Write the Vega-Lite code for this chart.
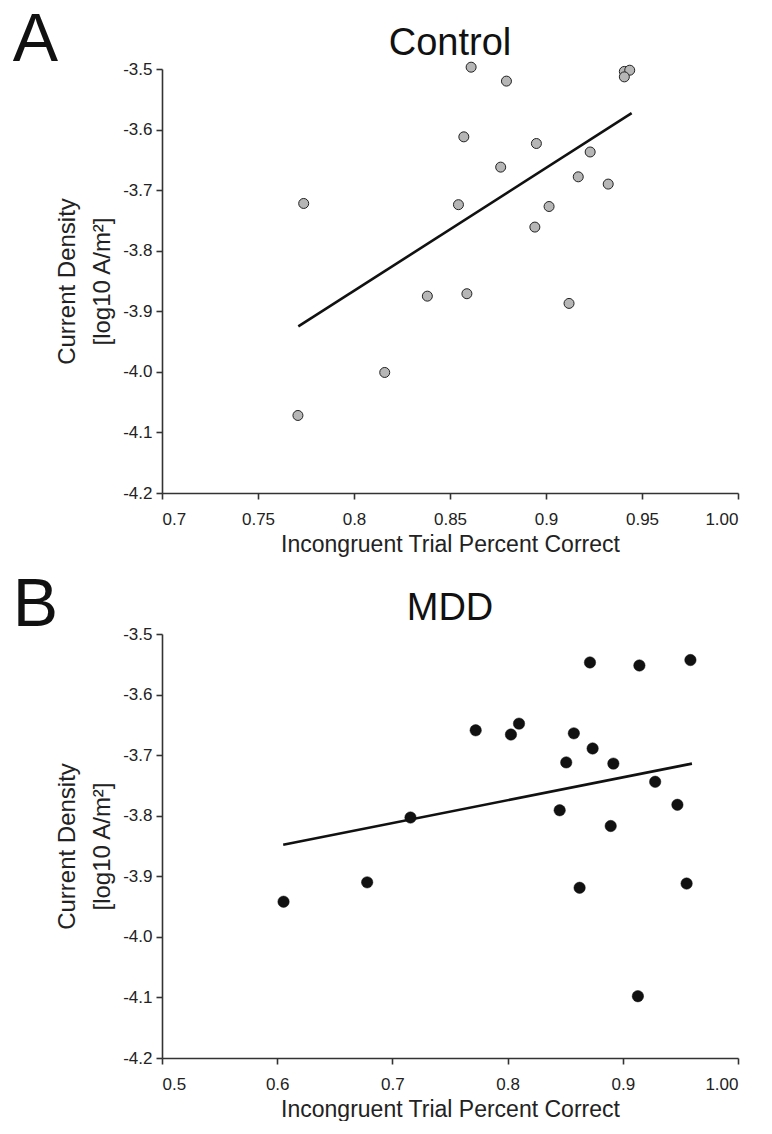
{
  "$schema": "https://vega.github.io/schema/vega-lite/v6.json",
  "padding": {"left": 12, "top": 7, "right": 20, "bottom": 0},
  "spacing": 16,
  "config": {
    "font": "Liberation Sans",
    "view": {"stroke": null},
    "axis": {
      "grid": false,
      "domainColor": "#333333",
      "domainWidth": 1.6,
      "tickColor": "#333333",
      "tickWidth": 1.6,
      "tickSize": 6,
      "labelFont": "Liberation Sans",
      "labelFontSize": 17,
      "labelColor": "#222222",
      "titleFont": "Liberation Sans",
      "titleFontSize": 23,
      "titleFontWeight": "normal",
      "titleColor": "#222222"
    },
    "title": {"font": "Liberation Sans", "fontWeight": "normal", "color": "#111111"}
  },
  "datasets": {
    "control": [
      {"x": 0.861, "y": -3.497},
      {"x": 0.8794, "y": -3.520},
      {"x": 0.9408, "y": -3.504},
      {"x": 0.9436, "y": -3.502},
      {"x": 0.9408, "y": -3.513},
      {"x": 0.8572, "y": -3.612},
      {"x": 0.895, "y": -3.623},
      {"x": 0.923, "y": -3.637},
      {"x": 0.8764, "y": -3.662},
      {"x": 0.9168, "y": -3.678},
      {"x": 0.9324, "y": -3.690},
      {"x": 0.7738, "y": -3.722},
      {"x": 0.8544, "y": -3.724},
      {"x": 0.9016, "y": -3.727},
      {"x": 0.8942, "y": -3.761},
      {"x": 0.8382, "y": -3.875},
      {"x": 0.8588, "y": -3.871},
      {"x": 0.912, "y": -3.887},
      {"x": 0.816, "y": -4.001},
      {"x": 0.7708, "y": -4.072}
    ],
    "controlFit": [
      {"x": 0.771, "y": -3.925},
      {"x": 0.9446, "y": -3.573}
    ],
    "mdd": [
      {"x": 0.8715, "y": -3.547},
      {"x": 0.9144, "y": -3.552},
      {"x": 0.9587, "y": -3.543},
      {"x": 0.7723, "y": -3.659},
      {"x": 0.8029, "y": -3.666},
      {"x": 0.8099, "y": -3.648},
      {"x": 0.8575, "y": -3.664},
      {"x": 0.8738, "y": -3.689},
      {"x": 0.8509, "y": -3.712},
      {"x": 0.8918, "y": -3.714},
      {"x": 0.9281, "y": -3.744},
      {"x": 0.9474, "y": -3.782},
      {"x": 0.8452, "y": -3.791},
      {"x": 0.7157, "y": -3.803},
      {"x": 0.8895, "y": -3.817},
      {"x": 0.6781, "y": -3.910},
      {"x": 0.8625, "y": -3.919},
      {"x": 0.9554, "y": -3.912},
      {"x": 0.6055, "y": -3.942},
      {"x": 0.9131, "y": -4.098}
    ],
    "mddFit": [
      {"x": 0.6052, "y": -3.848},
      {"x": 0.960, "y": -3.714}
    ]
  },
  "vconcat": [
    {
      "title": {"text": "A", "anchor": "start", "frame": "bounds", "fontSize": 68, "offset": -50, "dx": -43},
      "vconcat": [
        {
          "width": 576,
          "height": 424,
          "title": {"text": "Control", "fontSize": 38, "anchor": "middle", "offset": -3},
          "layer": [
            {
              "data": {"name": "controlFit"},
              "mark": {"type": "line", "color": "#111111", "strokeWidth": 2.6, "clip": false},
              "encoding": {
                "x": {"field": "x", "type": "quantitative"},
                "y": {"field": "y", "type": "quantitative"}
              }
            },
            {
              "data": {"name": "control"},
              "mark": {"type": "point", "shape": "circle", "filled": true, "fill": "#b6b6b6", "stroke": "#222222", "strokeWidth": 1, "size": 100, "opacity": 1, "clip": false},
              "encoding": {
                "x": {
                  "field": "x", "type": "quantitative",
                  "scale": {"domain": [0.7, 1.0], "nice": false, "zero": false},
                  "axis": {
                    "title": "Incongruent Trial Percent Correct",
                    "values": [0.7, 0.75, 0.8, 0.85, 0.9, 0.95, 1.0],
                    "labelExpr": "datum.value >= 0.999 ? '1.00' : format(datum.value, '~g')",
                    "labelPadding": 12,
                    "titlePadding": 6
                  }
                },
                "y": {
                  "field": "y", "type": "quantitative",
                  "scale": {"domain": [-4.2, -3.5], "nice": false, "zero": false},
                  "axis": {
                    "title": ["Current Density", "[log10 A/m²]"],
                    "titleLineHeight": 35,
                    "titleFontSize": 24,
                    "values": [-4.2, -4.1, -4.0, -3.9, -3.8, -3.7, -3.6, -3.5],
                    "labelExpr": "replace(format(datum.value, '.1f'), '\u2212', '-')",
                    "labelPadding": 4,
                    "titlePadding": 8
                  }
                }
              }
            }
          ]
        }
      ]
    },
    {
      "title": {"text": "B", "anchor": "start", "frame": "bounds", "fontSize": 68, "offset": -50, "dx": -43},
      "vconcat": [
        {
          "width": 576,
          "height": 424,
          "title": {"text": "MDD", "fontSize": 38, "anchor": "middle", "offset": -3},
          "layer": [
            {
              "data": {"name": "mddFit"},
              "mark": {"type": "line", "color": "#111111", "strokeWidth": 2.6, "clip": false},
              "encoding": {
                "x": {"field": "x", "type": "quantitative"},
                "y": {"field": "y", "type": "quantitative"}
              }
            },
            {
              "data": {"name": "mdd"},
              "mark": {"type": "point", "shape": "circle", "filled": true, "fill": "#111111", "stroke": "#111111", "strokeWidth": 0.5, "size": 130, "opacity": 1, "clip": false},
              "encoding": {
                "x": {
                  "field": "x", "type": "quantitative",
                  "scale": {"domain": [0.5, 1.0], "nice": false, "zero": false},
                  "axis": {
                    "title": "Incongruent Trial Percent Correct",
                    "values": [0.5, 0.6, 0.7, 0.8, 0.9, 1.0],
                    "labelExpr": "datum.value >= 0.999 ? '1.00' : format(datum.value, '~g')",
                    "labelPadding": 12,
                    "titlePadding": 6
                  }
                },
                "y": {
                  "field": "y", "type": "quantitative",
                  "scale": {"domain": [-4.2, -3.5], "nice": false, "zero": false},
                  "axis": {
                    "title": ["Current Density", "[log10 A/m²]"],
                    "titleLineHeight": 35,
                    "titleFontSize": 24,
                    "values": [-4.2, -4.1, -4.0, -3.9, -3.8, -3.7, -3.6, -3.5],
                    "labelExpr": "replace(format(datum.value, '.1f'), '\u2212', '-')",
                    "labelPadding": 4,
                    "titlePadding": 8
                  }
                }
              }
            }
          ]
        }
      ]
    }
  ]
}
